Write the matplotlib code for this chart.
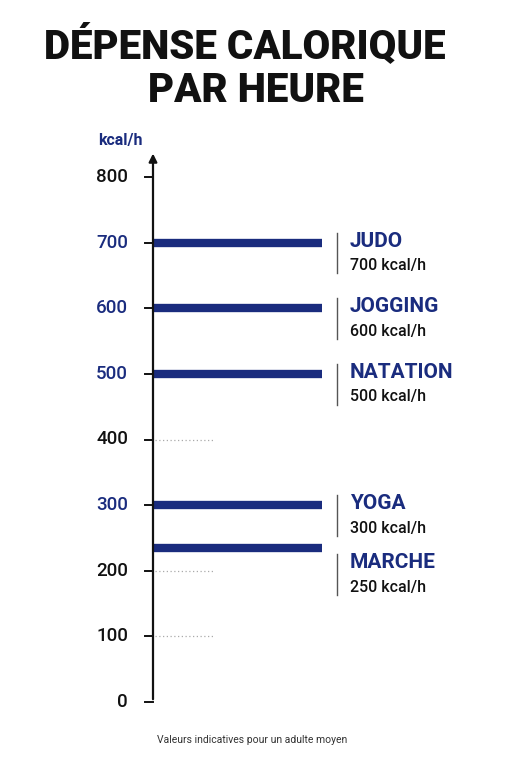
import matplotlib
matplotlib.use("Agg")
import matplotlib.pyplot as plt

activities = ["JUDO", "JOGGING", "NATATION", "YOGA", "MARCHE"]
bar_values = [700, 600, 500, 300, 235]
label_values = ["700 kcal/h", "600 kcal/h", "500 kcal/h", "300 kcal/h", "250 kcal/h"]
ticks = [0, 100, 200, 300, 400, 500, 600, 700, 800]
blue_ticks = [300, 500, 600, 700]
grid_ticks = [100, 200, 400]

NAVY = "#1a2c7e"
DARK = "#111111"
plt.rcParams['font.family'] = ['Roboto', 'DejaVu Sans']

W, H = 511, 768
fig = plt.figure(figsize=(W/100, H/100), dpi=100)
fig.patch.set_facecolor("white")
x0, x1 = 153, 500
y0, y800 = 702, 177
ax = fig.add_axes([x0/W, (H-y0)/H, (x1-x0)/W, (y0-y800)/H])
ax.set_xlim(0, x1-x0)
ax.set_ylim(0, 800)
ax.axis("off")

ax.annotate("", xy=(0, 840), xytext=(0, 0), annotation_clip=False,
            arrowprops=dict(arrowstyle="-|>", color=DARK, lw=1.6, mutation_scale=12))
for t in ticks:
    ax.plot([-8, 0], [t, t], color=DARK, lw=1.4, clip_on=False)
    ax.text(-25, t, str(t), ha="right", va="center", fontsize=13.5,
            color=NAVY if t in blue_ticks else DARK, fontweight="medium")
for t in grid_ticks:
    ax.plot([2, 60], [t, t], color="#aaaaaa", lw=0.9, ls=(0, (1, 2)))

for name, v, lab in zip(activities, bar_values, label_values):
    ax.plot([0, 169], [v, v], color=NAVY, lw=6, solid_capstyle="butt", clip_on=False)
    yc = v if name != "MARCHE" else 210
    ax.plot([184, 184], [yc - 47, yc + 15], color="#555555", lw=1)
    ax.text(197, yc + 2, name, ha="left", va="center", fontsize=15,
            fontweight="bold", color=NAVY)
    ax.text(197, yc - 35, lab, ha="left", va="center", fontsize=11.5,
            color=DARK, fontweight="medium")

ax.text(-10, 855, "kcal/h", ha="right", va="center", fontsize=11.5,
        color=NAVY, fontweight="bold")

fig.text(0.48, 1 - 45/H, "DÉPENSE CALORIQUE", ha="center", va="center",
         fontsize=29, fontweight="black", color="#111111")
fig.text(0.50, 1 - 90/H, "PAR HEURE", ha="center", va="center",
         fontsize=29, fontweight="black", color="#111111")
fig.text(252/W, 1 - 740/H, "Valeurs indicatives pour un adulte moyen",
         ha="center", va="center", fontsize=7.5, color="#333333")

fig.savefig("out.png", dpi=100)
